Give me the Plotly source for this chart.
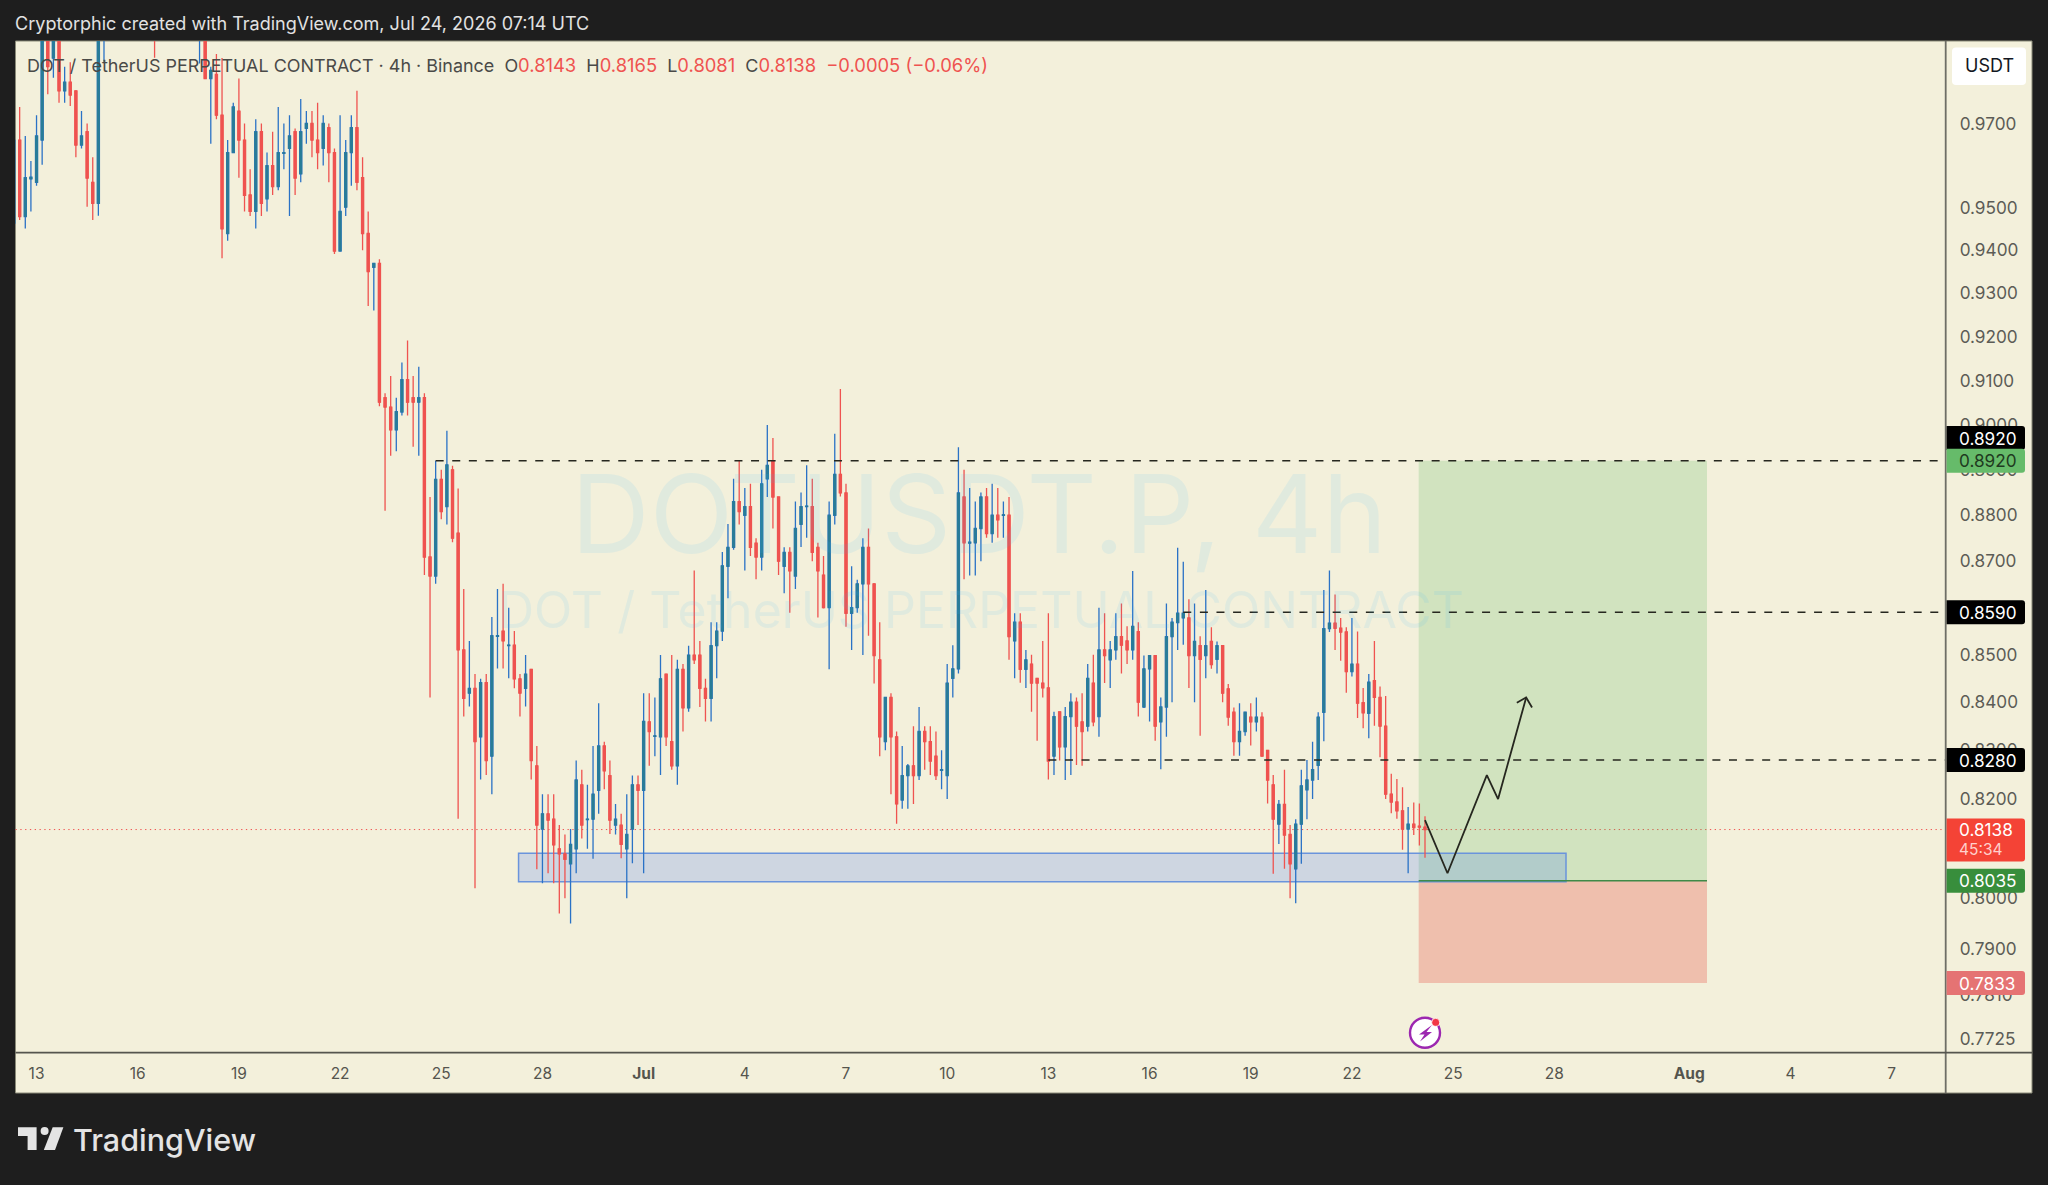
import numpy as np
import pandas as pd
import plotly.graph_objects as go

N = None
# 4h candles, first one clipped by the left edge; N = entirely above the visible range
opens = [.9463,.9661,.9479,.9568,.9560,.9661,.9980,.9860,.9985,.9780,
 .9801,.9780,.9649,.9681,.9560,.9510,.9925,N,N,N,
 N,N,N,N,N,1.0,N,N,N,N,
 N,N,N,.9920,.9950,.9810,.9820,.9721,.9439,.9631,
 .9731,.9661,.9530,.9491,.9681,.9521,.9600,.9550,.9629,.9641,
 .9681,.9580,.9689,.9701,.9661,.9641,.9691,.9631,.9398,.9501,
 .9631,.9691,.9571,.9439,.9360,.9369,.9061,.9040,.8989,.9029,
 .9102,.9061,.9051,.9061,.8709,.8668,.8879,.8819,.8900,.8761,
 .8510,.8419,.8429,.8328,.8441,.8288,.8539,.8550,.8519,.8520,
 .8449,.8429,.8469,.8268,.8139,.8170,.8159,.8099,.8089,.8069,
 .8099,.8229,.8158,.8159,.8218,.8309,.8248,.8147,.8147,.8099,
 .8139,.8229,.8218,.8359,.8329,.8328,.8459,.8318,.8268,.8469,
 .8388,.8499,.8499,.8429,.8408,.8519,.8550,.8689,.8730,.8830,
 .8800,.8819,.8739,.8709,.8880,.8920,.8840,.8689,.8719,.8668,
 .8780,.8819,.8819,.8730,.8670,.8600,.8800,.8890,.8849,.8588,
 .8600,.8651,.8730,.8651,.8489,.8318,.8410,.8328,.8198,.8248,
 .8268,.8248,.8339,.8318,.8288,.8259,.8248,.8450,.8470,.8840,
 .8739,.8740,.8771,.8840,.8760,.8800,.8800,.8800,.8529,.8569,
 .8469,.8480,.8450,.8440,.8430,.8288,.8380,.8307,.8370,.8400,
 .8359,.8350,.8440,.8370,.8510,.8489,.8510,.8538,.8529,.8510,
 .8549,.8390,.8470,.8498,.8359,.8390,.8538,.8568,.8578,.8578,
 .8498,.8519,.8498,.8528,.8490,.8519,.8428,.8379,.8318,.8339,
 .8369,.8359,.8369,.8300,.8229,.8149,.8189,.8128,.8059,.8149,
 .8219,.8239,.8269,.8379,.8555,.8567,.8556,.8548,.8464,.8480,
 .8399,.8377,.8445,.8410,.8350,.8210,.8194,.8176,.8139,.8149,
 .8145,.8143]
highs = [.9670,.9741,.9671,.9611,.9721,1.0,1.002,1.005,1.002,.9839,
 .9850,.9780,.9731,.9701,.9620,1.0,1.01,N,N,N,
 N,N,N,N,N,1.01,N,N,N,N,
 N,N,N,1.005,1.0,.9839,.9870,.9860,.9661,.9751,
 .9810,.9701,.9591,.9711,.9701,.9631,.9681,.9741,.9701,.9721,
 .9689,.9760,.9731,.9731,.9751,.9721,.9701,.9641,.9721,.9661,
 .9721,.9780,.9620,.9491,.9369,.9379,.9071,.9110,.9061,.9141,
 .9191,.9110,.9131,.9071,.8840,.8920,.8900,.8987,.8909,.8859,
 .8640,.8529,.8459,.8449,.8459,.8580,.8640,.8651,.8600,.8550,
 .8459,.8499,.8469,.8309,.8210,.8210,.8210,.8147,.8128,.8139,
 .8279,.8260,.8229,.8309,.8398,.8318,.8279,.8190,.8170,.8210,
 .8248,.8248,.8419,.8419,.8410,.8499,.8460,.8499,.8489,.8480,
 .8519,.8680,.8529,.8449,.8569,.8569,.8720,.8781,.8880,.8920,
 .8860,.8869,.8750,.8900,.9000,.8971,.8840,.8730,.8730,.8830,
 .8850,.8910,.8880,.8740,.8711,.8830,.8980,.9081,.8869,.8689,
 .8660,.8750,.8771,.8651,.8569,.8410,.8419,.8339,.8309,.8272,
 .8350,.8390,.8350,.8350,.8339,.8300,.8480,.8520,.8950,.8900,
 .8860,.8830,.8850,.8860,.8869,.8860,.8830,.8840,.8588,.8588,
 .8510,.8500,.8450,.8529,.8588,.8380,.8380,.8390,.8419,.8410,
 .8419,.8480,.8500,.8600,.8588,.8529,.8588,.8609,.8560,.8679,
 .8569,.8498,.8498,.8498,.8410,.8609,.8578,.8729,.8699,.8618,
 .8609,.8539,.8638,.8558,.8528,.8519,.8438,.8389,.8398,.8379,
 .8398,.8410,.8379,.8300,.8249,.8198,.8260,.8147,.8159,.8260,
 .8280,.8318,.8379,.8638,.8680,.8628,.8578,.8558,.8578,.8549,
 .8430,.8459,.8529,.8433,.8413,.8252,.8241,.8224,.8184,.8193,
 .8191,.8165]
lows = [.9459,.9471,.9451,.9491,.9552,.9602,.9772,.9812,.9751,.9751,
 .9743,.9620,.9641,.9502,.9471,.9481,.9851,N,N,N,
 N,N,N,N,N,.9861,N,N,N,N,
 N,N,N,.9847,.9810,.9652,.9711,.9381,.9422,.9630,
 .9571,.9491,.9480,.9451,.9480,.9491,.9530,.9541,.9591,.9480,
 .9530,.9560,.9652,.9620,.9591,.9600,.9560,.9391,.9398,.9480,
 .9552,.9541,.9400,.9270,.9260,.9042,.8810,.8931,.8941,.9021,
 .9021,.8951,.8931,.8670,.8410,.8651,.8791,.8780,.8741,.8160,
 .8370,.8391,.8020,.8240,.8249,.8210,.8471,.8471,.8450,.8429,
 .8370,.8391,.8240,.8058,.8030,.8050,.8030,.7970,.8000,.7950,
 .8050,.8120,.8099,.8079,.8170,.8220,.8129,.8128,.8080,.8000,
 .8070,.8147,.8050,.8268,.8288,.8249,.8309,.8260,.8229,.8339,
 .8380,.8480,.8390,.8360,.8360,.8450,.8529,.8620,.8725,.8780,
 .8680,.8711,.8661,.8680,.8840,.8771,.8670,.8631,.8589,.8640,
 .8731,.8751,.8700,.8579,.8598,.8469,.8780,.8841,.8559,.8510,
 .8589,.8499,.8540,.8439,.8288,.8300,.8210,.8150,.8180,.8180,
 .8190,.8239,.8260,.8249,.8239,.8220,.8200,.8410,.8460,.8661,
 .8669,.8669,.8700,.8751,.8740,.8751,.8751,.8489,.8450,.8441,
 .8430,.8380,.8320,.8410,.8240,.8249,.8279,.8239,.8249,.8270,
 .8268,.8339,.8350,.8328,.8440,.8430,.8489,.8460,.8480,.8489,
 .8370,.8388,.8360,.8320,.8261,.8328,.8400,.8510,.8521,.8430,
 .8400,.8330,.8450,.8470,.8460,.8400,.8351,.8289,.8289,.8330,
 .8310,.8339,.8287,.8191,.8049,.8109,.8059,.8000,.7990,.8069,
 .8159,.8200,.8239,.8319,.8548,.8510,.8487,.8420,.8454,.8367,
 .8346,.8325,.8351,.8286,.8200,.8171,.8160,.8097,.8050,.8127,
 .8106,.8081]
closes = [.9661,.9479,.9571,.9572,.9671,.9950,.9839,1.0,.9780,.9801,
 .9770,.9649,.9671,.9570,.9510,.9950,1.0,N,N,N,
 N,N,N,N,N,.9920,N,N,N,N,
 N,N,N,1.0,.9810,.9830,.9721,.9450,.9631,.9741,
 .9661,.9529,.9491,.9681,.9510,.9600,.9550,.9631,.9631,.9671,
 .9570,.9681,.9701,.9661,.9631,.9701,.9631,.9398,.9491,.9631,
 .9691,.9560,.9439,.9350,.9369,.9051,.9040,.8989,.9030,.9102,
 .9051,.9051,.9061,.8709,.8668,.8879,.8808,.8911,.8750,.8510,
 .8408,.8429,.8318,.8441,.8279,.8540,.8540,.8529,.8520,.8449,
 .8419,.8459,.8279,.8147,.8170,.8157,.8107,.8089,.8078,.8108,
 .8239,.8147,.8159,.8210,.8309,.8258,.8157,.8159,.8108,.8128,
 .8229,.8218,.8360,.8339,.8330,.8449,.8328,.8268,.8469,.8388,
 .8499,.8489,.8429,.8408,.8519,.8550,.8690,.8730,.8830,.8808,
 .8819,.8730,.8709,.8869,.8910,.8840,.8700,.8719,.8679,.8771,
 .8819,.8820,.8719,.8679,.8600,.8800,.8890,.8849,.8588,.8600,
 .8651,.8730,.8651,.8498,.8328,.8410,.8328,.8190,.8248,.8268,
 .8248,.8339,.8318,.8278,.8248,.8260,.8440,.8470,.8849,.8740,
 .8741,.8771,.8840,.8760,.8800,.8790,.8801,.8538,.8569,.8469,
 .8489,.8440,.8440,.8430,.8278,.8370,.8307,.8370,.8400,.8350,
 .8339,.8450,.8359,.8510,.8498,.8510,.8538,.8520,.8510,.8560,
 .8400,.8470,.8498,.8350,.8390,.8538,.8569,.8588,.8588,.8498,
 .8528,.8490,.8519,.8479,.8519,.8419,.8369,.8318,.8339,.8379,
 .8359,.8369,.8288,.8239,.8159,.8189,.8127,.8069,.8149,.8227,
 .8239,.8260,.8369,.8555,.8567,.8556,.8548,.8464,.8480,.8398,
 .8378,.8442,.8410,.8350,.8210,.8194,.8176,.8139,.8149,.8142,
 .8143,.8138]

times = pd.date_range(end="2026-07-24 04:00", periods=len(closes), freq="4h")

price_ticks = [0.97, 0.95, 0.94, 0.93, 0.92, 0.91, 0.90, 0.89, 0.88, 0.87, 0.85,
               0.84, 0.83, 0.82, 0.80, 0.79, 0.781, 0.7725]
date_ticks = ["2026-06-13", "2026-06-16", "2026-06-19", "2026-06-22", "2026-06-25", "2026-06-28",
              "2026-07-01", "2026-07-04", "2026-07-07", "2026-07-10", "2026-07-13", "2026-07-16",
              "2026-07-19", "2026-07-22", "2026-07-25", "2026-07-28", "2026-08-01", "2026-08-04",
              "2026-08-07"]
date_labels = ["13", "16", "19", "22", "25", "28", "<b>Jul</b>", "4", "7", "10", "13", "16",
               "19", "22", "25", "28", "<b>Aug</b>", "4", "7"]

view_x = ["2026-06-12 09:02", "2026-08-08 14:31"]
view_y = [0.76985, 0.99021]

level_prices = [0.8920, 0.8590, 0.8280]
level_starts = ["2026-06-24 20:00", "2026-07-17 00:00", "2026-07-13 00:00"]
last_price = 0.8138
zone_price = [0.8033, 0.8090]
zone_time = ["2026-06-27 07:00", "2026-07-28 08:20"]
pos_time = ["2026-07-23 23:30", "2026-08-01 12:40"]
entry, target, stop = 0.8035, 0.8920, 0.7833
path_time = ["2026-07-24 04:00", "2026-07-24 20:00", "2026-07-26 00:00", "2026-07-26 08:00", "2026-07-27 04:00"]
path_price = [0.8157, 0.8050, 0.8249, 0.8200, 0.8410]
head_time = ["2026-07-26 21:20", "2026-07-27 04:00", "2026-07-27 08:10"]
head_price = [0.8399, 0.8410, 0.8389]

W, H = 2048, 1185
L_, R_, T_, B_ = 15.5, 1945.7, 41.0, 1052.7
PANEL_R, PANEL_B = 2032.0, 1093.0
DARK = "#1e1e1e"
CREAM = "#f3f0db"
RED = "#ef5350"
FONT = "Inter"


def px(x):
    return x / W


def py(y):
    return 1 - y / H


def price_y(p):
    a, b = np.log10(view_y[1]), np.log10(view_y[0])
    return T_ + (a - np.log10(p)) / (a - b) * (B_ - T_)


def round_rect(x0, y0, x1, y1, r, left=True):
    rl = r if left else 0
    return (f"M{px(x0 + rl)},{py(y0)} L{px(x1 - r)},{py(y0)} Q{px(x1)},{py(y0)} {px(x1)},{py(y0 + r)} "
            f"L{px(x1)},{py(y1 - r)} Q{px(x1)},{py(y1)} {px(x1 - r)},{py(y1)} L{px(x0 + rl)},{py(y1)} "
            f"Q{px(x0)},{py(y1)} {px(x0)},{py(y1 - rl)} L{px(x0)},{py(y0 + rl)} Q{px(x0)},{py(y0)} {px(x0 + rl)},{py(y0)} Z")


def poly(points):
    return "M" + " L".join(f"{px(x)},{py(y)}" for x, y in points) + " Z"


fig = go.Figure()
fig.add_trace(go.Candlestick(
    x=times, open=opens, high=highs, low=lows, close=closes,
    increasing=dict(line=dict(color="#2a72c6", width=1.3), fillcolor="#2a72c6"),
    decreasing=dict(line=dict(color=RED, width=1.3), fillcolor=RED),
    whiskerwidth=0, showlegend=False, hoverinfo="skip"))
# teal inner body of the rising candles, drawn over the blue wick and rim
body_hi = [None if o is None else max(o, c) for o, c in zip(opens, closes)]
body_lo = [None if o is None else min(o, c) for o, c in zip(opens, closes)]
fig.add_trace(go.Candlestick(
    x=times, open=opens, high=body_hi, low=body_lo, close=closes,
    increasing=dict(line=dict(color="#2a7d96", width=0.7), fillcolor="#2a7d96"),
    decreasing=dict(line=dict(color=RED, width=0.7), fillcolor=RED),
    whiskerwidth=0, showlegend=False, hoverinfo="skip"))
fig.add_trace(go.Scatter(x=path_time, y=path_price, mode="lines", showlegend=False, hoverinfo="skip",
                         line=dict(color="#26271f", width=1.8)))
fig.add_trace(go.Scatter(x=head_time, y=head_price, mode="lines", showlegend=False, hoverinfo="skip",
                         line=dict(color="#26271f", width=1.8)))

shapes = []
# frame panel
shapes.append(dict(type="rect", xref="paper", yref="paper", layer="below", x0=px(L_), x1=px(PANEL_R),
                   y0=py(PANEL_B), y1=py(T_), fillcolor=CREAM, line=dict(color="#8a8a78", width=1)))
# long position
shapes.append(dict(type="rect", xref="x", yref="y", layer="below", x0=pos_time[0], x1=pos_time[1],
                   y0=entry, y1=target, fillcolor="rgba(76,175,80,0.2)", line=dict(width=0)))
shapes.append(dict(type="rect", xref="x", yref="y", layer="below", x0=pos_time[0], x1=pos_time[1],
                   y0=stop, y1=entry, fillcolor="rgba(230,60,50,0.27)", line=dict(width=0)))
# demand zone
shapes.append(dict(type="rect", xref="x", yref="y", layer="below", x0=zone_time[0], x1=zone_time[1],
                   y0=zone_price[0], y1=zone_price[1], fillcolor="rgba(41,98,255,0.18)",
                   line=dict(color="#6a94dc", width=1.5)))
shapes.append(dict(type="line", xref="x", yref="y", layer="above", x0=pos_time[0], x1=pos_time[1],
                   y0=entry, y1=entry, line=dict(color="#3f8a48", width=1.6)))
# last price line
shapes.append(dict(type="line", xref="paper", yref="y", layer="below", x0=px(L_), x1=px(R_),
                   y0=last_price, y1=last_price, line=dict(color=RED, width=1, dash="1.3px,3.5px")))
# horizontal dashed levels
for p, s in zip(level_prices, level_starts):
    shapes.append(dict(type="line", xref="x", yref="y", layer="above", x0=s, x1=view_x[1], y0=p, y1=p,
                       line=dict(color="#26271f", width=1.5, dash="8px,8.6px")))
# axis separators
shapes.append(dict(type="line", xref="paper", yref="paper", layer="above", x0=px(R_), x1=px(R_),
                   y0=py(PANEL_B), y1=py(T_), line=dict(color="#6e6e66", width=1.8)))
shapes.append(dict(type="line", xref="paper", yref="paper", layer="above", x0=px(L_), x1=px(PANEL_R),
                   y0=py(B_), y1=py(B_), line=dict(color="#55554e", width=1.8)))

# price labels
LX0, LX1 = 1946.6, 2025.0
labels = [
    ("0.8920", price_y(target) - 22.8, 24, "#000000", "#ffffff"),
    ("0.8920", price_y(target), 24, "#66bb6a", "#1f3a20"),
    ("0.8590", price_y(0.859), 24, "#000000", "#ffffff"),
    ("0.8280", price_y(0.828), 24, "#000000", "#ffffff"),
    ("0.8035", price_y(entry), 24, "#388e3c", "#ffffff"),
    ("0.7833", price_y(stop), 24, "#e57373", "#ffffff"),
]
annots = []


def txt(x, y, text, size=17, color="#ffffff", anchor="left", **kw):
    annots.append(dict(xref="paper", yref="paper", x=px(x), y=py(y), text=text, showarrow=False,
                       xanchor=anchor, yanchor="middle", align=anchor,
                       font=dict(family=FONT, size=size, color=color), **kw))


for text, yc, h, bg, fg in labels:
    shapes.append(dict(type="path", xref="paper", yref="paper", layer="above",
                       path=round_rect(LX0, yc - h / 2, LX1, yc + h / 2, 3, left=False),
                       fillcolor=bg, line=dict(width=0)))
    txt(1957.2, yc, text, size=17.2, color=fg)
# last price label with countdown
yc = price_y(last_price)
shapes.append(dict(type="path", xref="paper", yref="paper", layer="above",
                   path=round_rect(LX0, yc - 11, LX1, yc + 32, 3, left=False),
                   fillcolor="#f44336", line=dict(width=0)))
txt(1957.2, yc, "0.8138", size=17.2, color="#ffffff")
txt(1957.2, yc + 20, "45:34", size=15.5, color="#ffd0cc")
# currency button
shapes.append(dict(type="path", xref="paper", yref="paper", layer="above",
                   path=round_rect(1952, 47.5, 2026, 85, 4), fillcolor="#ffffff", line=dict(width=0)))
txt(1989, 66, "USDT", size=18, color="#131722", anchor="center")

# earnings/event icon
shapes.append(dict(type="circle", xref="paper", yref="paper", layer="above", x0=px(1408.5), x1=px(1441.5),
                   y0=py(1049), y1=py(1016.5), fillcolor=CREAM, line=dict(width=0)))
shapes.append(dict(type="circle", xref="paper", yref="paper", layer="above", x0=px(1410), x1=px(1440),
                   y0=py(1047.8), y1=py(1017.8), fillcolor="#ffffff", line=dict(color="#9c27b0", width=2.4)))
shapes.append(dict(type="path", xref="paper", yref="paper", layer="above",
                   path=poly([(1432, 1025), (1419, 1034.5), (1424.5, 1034.5), (1420, 1041.5), (1432, 1032), (1426.5, 1032)]),
                   fillcolor="#9c27b0", line=dict(width=0)))
shapes.append(dict(type="circle", xref="paper", yref="paper", layer="above", x0=px(1431.7), x1=px(1439.7),
                   y0=py(1026.3), y1=py(1018.3), fillcolor="#f23645", line=dict(color="#ffffff", width=0.8)))

# TradingView logo
LOGO = "#e4e4e4"
shapes.append(dict(type="path", xref="paper", yref="paper", layer="above",
                   path=poly([(18, 1127.3), (36.6, 1127.3), (36.6, 1150), (27.6, 1150), (27.6, 1136), (18, 1136)]),
                   fillcolor=LOGO, line=dict(width=0)))
shapes.append(dict(type="circle", xref="paper", yref="paper", layer="above", x0=px(40.6), x1=px(48.6),
                   y0=py(1135), y1=py(1127), fillcolor=LOGO, line=dict(width=0)))
shapes.append(dict(type="path", xref="paper", yref="paper", layer="above",
                   path=poly([(52.7, 1127.3), (63.4, 1127.3), (55, 1150), (43.8, 1150)]),
                   fillcolor=LOGO, line=dict(width=0)))

# page texts
txt(13.2, 24, "Cryptorphic created with TradingView.com, Jul 24, 2026 07:14 UTC", size=18.05, color="#e2e2e2")
v = lambda s: f"<span style='color:{RED};font-size:18.4px'>{s}</span>"
legend = ("DOT / TetherUS PERPETUAL CONTRACT · 4h · Binance  O" + v("0.8143") + "  H" + v("0.8165")
          + "  L" + v("0.8081") + "  C" + v("0.8138") + "  " + v("−0.0005 (−0.06%)"))
txt(24.6, 65, legend.replace("  ", "\u00a0\u00a0"), size=17.95, color="#4a4a48")
txt(70.5, 1139, "TradingView", size=30.5, color=LOGO)
annots[-1]["font"]["weight"] = 500
txt(979, 513, "DOTUSDT.P, 4h", size=109, color="rgba(60,190,255,0.10)", anchor="center")
txt(981, 610, "DOT / TetherUS PERPETUAL CONTRACT", size=50, color="rgba(60,190,255,0.10)", anchor="center")

fig.update_layout(
    width=W, height=H, autosize=False,
    margin=dict(l=0, r=0, t=0, b=0, pad=0),
    paper_bgcolor=DARK, plot_bgcolor=CREAM, boxgap=0.47, boxmode="overlay", showlegend=False,
    font=dict(family=FONT, color="#55554e"),
    shapes=shapes, annotations=annots,
    xaxis=dict(domain=[px(L_), px(R_)], type="date", range=view_x, rangeslider=dict(visible=False),
               tickmode="array", tickvals=date_ticks, ticktext=date_labels, tickangle=0,
               ticks="outside", ticklen=7, tickcolor="rgba(0,0,0,0)", showgrid=False, zeroline=False,
               showline=False, tickfont=dict(family=FONT, size=15.5, color="#55554e"), automargin=False),
    yaxis=dict(domain=[py(B_), py(T_)], type="log", side="right", range=list(np.log10(view_y)),
               tickmode="array", tickvals=price_ticks, ticktext=[f"{t:.4f}" for t in price_ticks],
               ticks="outside", ticklen=9.5, tickcolor="rgba(0,0,0,0)", showgrid=False, zeroline=False,
               showline=False, tickfont=dict(family=FONT, size=17.2, color="#5c5c56"), automargin=False),
)
fig.write_html("out.html", config={"displayModeBar": False},
               post_script="document.body.style.margin='0';document.body.style.background='#1e1e1e';")
